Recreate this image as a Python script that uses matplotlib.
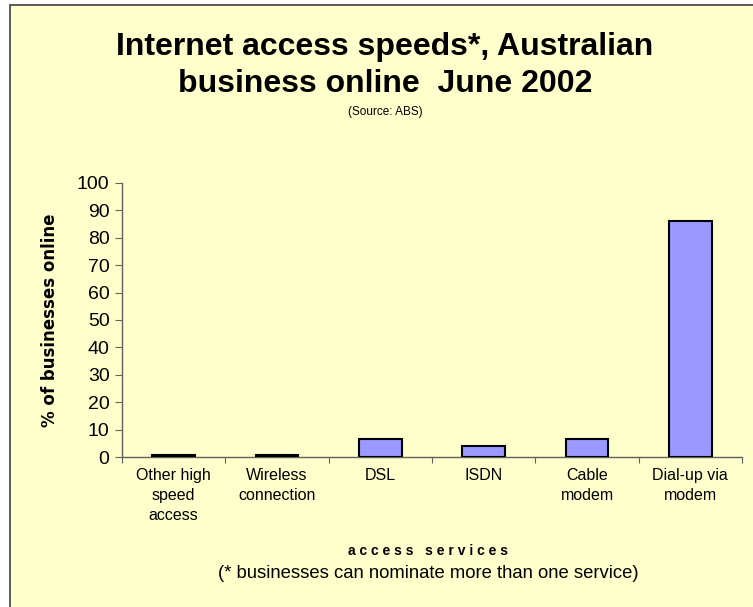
import matplotlib
matplotlib.use("Agg")
import matplotlib.pyplot as plt
from matplotlib.patches import Rectangle
import numpy as np

categories = ["Other high\nspeed\naccess", "Wireless\nconnection", "DSL", "ISDN", "Cable\nmodem", "Dial-up via\nmodem"]
values = [0.6, 0.6, 6.7, 4.0, 6.7, 86.2]
yticks = [0, 10, 20, 30, 40, 50, 60, 70, 80, 90, 100]

bg = "#FFFFCC"
fig = plt.figure(figsize=(7.53, 6.07), dpi=100)
fig.patch.set_facecolor("white")
# chart frame
frame = Rectangle((10/753, -0.1), 1.2, 1 - 5/607 + 0.1, transform=fig.transFigure,
                  facecolor=bg, edgecolor="#404040", linewidth=1.2, zorder=-10)
fig.patches.append(frame)

ax = fig.add_axes([122/753, 1 - 457/607, (742 - 122)/753, (457 - 183)/607])
ax.set_zorder(5)
ax.patch.set_alpha(0)
x = np.arange(len(categories))
ax.bar(x, values, width=0.41, color="#9999FF", edgecolor="black", linewidth=1.5, zorder=3)
ax.set_xlim(-0.5, len(categories) - 0.5)
ax.set_ylim(0, 100)
ax.set_yticks(yticks)
ax.set_yticklabels([str(v) for v in yticks], fontsize=14, family="Liberation Sans")
ax.set_xticks(np.arange(-0.5, len(categories), 1.0))
ax.set_xticklabels([])
ax.set_xticks(x, minor=True)
ax.set_xticklabels(categories, minor=True, fontsize=11.5, family="Liberation Sans", linespacing=1.4)
ax.tick_params(axis="x", which="minor", length=0, pad=8)
ax.tick_params(axis="x", which="major", length=4, color="#606060", direction="out")
ax.tick_params(axis="y", length=5, color="#606060", direction="out", pad=4)
for s in ["top", "right"]:
    ax.spines[s].set_visible(False)
for s in ["left", "bottom"]:
    ax.spines[s].set_color("#606060")
    ax.spines[s].set_linewidth(1.0)

ax.set_ylabel("% of businesses online", fontsize=12, fontweight="bold", family="DejaVu Sans", labelpad=13)

fig.text(385/753, 1 - 47/607, "Internet access speeds*, Australian", ha="center", va="center",
         fontsize=23, fontweight="bold", family="Liberation Sans")
fig.text(385/753, 1 - 84/607, "business online  June 2002", ha="center", va="center",
         fontsize=23, fontweight="bold", family="Liberation Sans")
fig.text(385/753, 1 - 112/607, "(Source: ABS)", ha="center", va="center",
         fontsize=8.5, family="Liberation Sans")
fig.text(428/753, 1 - 551/607, "a c c e s s   s e r v i c e s", ha="center", va="center",
         fontsize=10, fontweight="bold", family="Liberation Sans")
fig.text(428/753, 1 - 573/607, "(* businesses can nominate more than one service)", ha="center", va="center",
         fontsize=13.3, family="Liberation Sans")

fig.savefig("out.png", dpi=100, facecolor=fig.get_facecolor())
